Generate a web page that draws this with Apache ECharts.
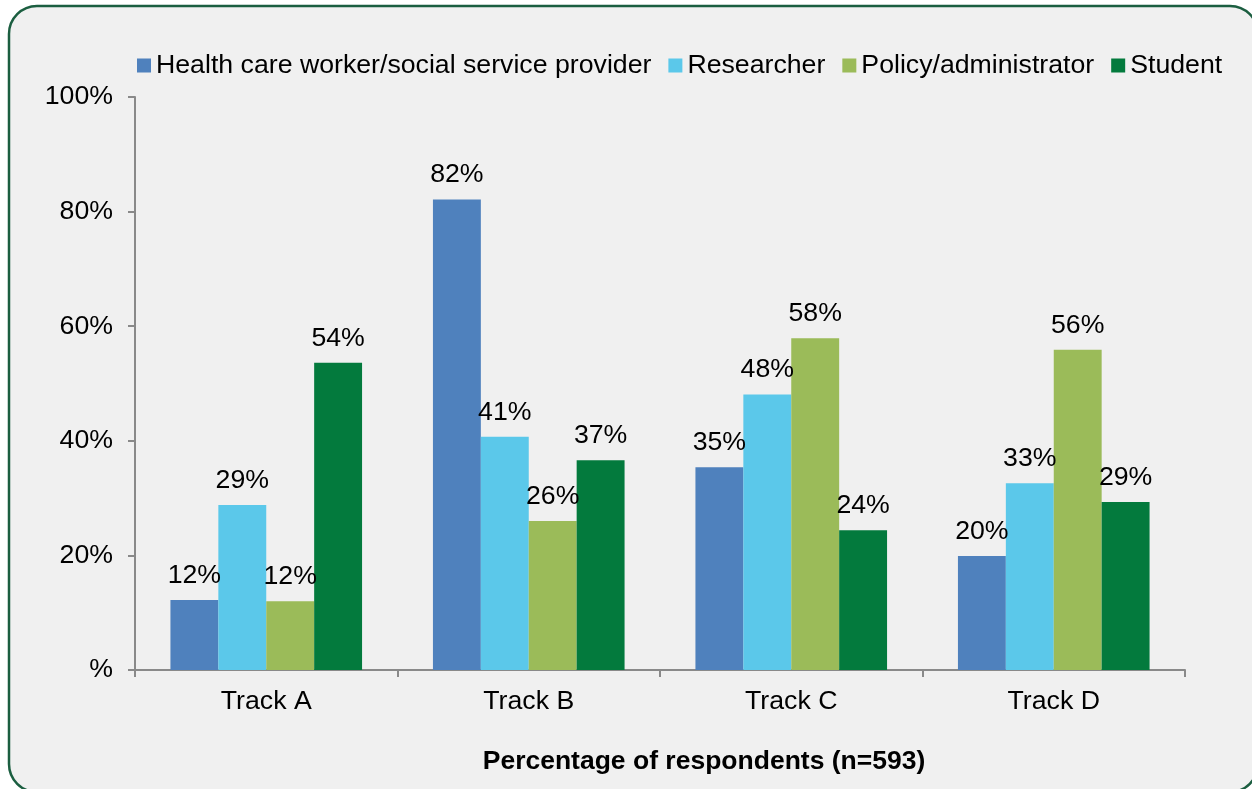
<!DOCTYPE html>
<html>
<head>
<meta charset="utf-8">
<script src="https://cdn.jsdelivr.net/npm/echarts@6/dist/echarts.min.js"></script>
<style>
html,body{margin:0;padding:0;background:#fff;overflow:hidden;}
#chart{width:1252px;height:789px;}
</style>
</head>
<body>
<div id="chart"></div>
<script>
const categories = ['Track A', 'Track B', 'Track C', 'Track D'];
const seriesNames = ['Health care worker/social service provider', 'Researcher', 'Policy/administrator', 'Student'];
const healthCare = [12.2, 82.1, 35.4, 19.9];
const researcher = [28.8, 40.7, 48.1, 32.6];
const policy = [12.0, 26.0, 57.9, 55.9];
const student = [53.6, 36.6, 24.4, 29.3];
const yTicks = [0, 20, 40, 60, 80, 100];
const axisTitle = 'Percentage of respondents (n=593)';

const colors = ['#4f81bd', '#5bc8ea', '#9bbb59', '#037a3d'];
const values = [healthCare, researcher, policy, student];
const FONT = '"Liberation Sans", Arial, sans-serif';
const FS = 26.7;

const chart = echarts.init(document.getElementById('chart'), null, {renderer: 'canvas'});
chart.setOption({
  backgroundColor: 'transparent',
  animation: false,
  textStyle: {fontFamily: FONT},
  graphic: [{
    type: 'rect', z: -10, silent: true,
    shape: {x: 9, y: 6, width: 1249, height: 786, r: 28},
    style: {fill: '#f0f0f0', stroke: '#1b5e40', lineWidth: 2.5}
  }],
  legend: {
    data: seriesNames,
    left: 132, top: 47,
    icon: 'rect', itemWidth: 14, itemHeight: 14, itemGap: 17,
    textStyle: {fontSize: FS, color: '#000', fontFamily: FONT}
  },
  grid: {left: 135, right: 67, top: 97, bottom: 119, containLabel: false},
  xAxis: {
    type: 'category', data: categories,
    axisLine: {lineStyle: {color: '#898989', width: 2}},
    axisTick: {show: true, length: 7, lineStyle: {color: '#898989', width: 2}},
    axisLabel: {fontSize: FS, color: '#000', margin: 18, fontFamily: FONT},
    name: axisTitle, nameLocation: 'middle', nameGap: 78,
    nameTextStyle: {fontSize: 26.5, fontWeight: 'bold', color: '#000', fontFamily: FONT, padding: [0, 0, 0, 88]}
  },
  yAxis: {
    type: 'value', min: yTicks[0], max: yTicks[yTicks.length - 1], interval: 20,
    axisLine: {show: true, lineStyle: {color: '#898989', width: 2}},
    axisTick: {show: true, length: 7, lineStyle: {color: '#898989', width: 2}},
    splitLine: {show: false},
    axisLabel: {fontSize: FS, color: '#000', margin: 22, fontFamily: FONT,
      formatter: v => v === 0 ? '%' : v + '%'}
  },
  series: seriesNames.map((name, i) => ({
    name, type: 'bar', data: values[i],
    barGap: '0%', barCategoryGap: '27%',
    itemStyle: {color: colors[i]},
    label: {show: true, position: 'top', distance: 11, fontSize: FS, color: '#000', fontFamily: FONT,
      formatter: p => Math.round(p.value) + '%'}
  }))
});
</script>
</body>
</html>
